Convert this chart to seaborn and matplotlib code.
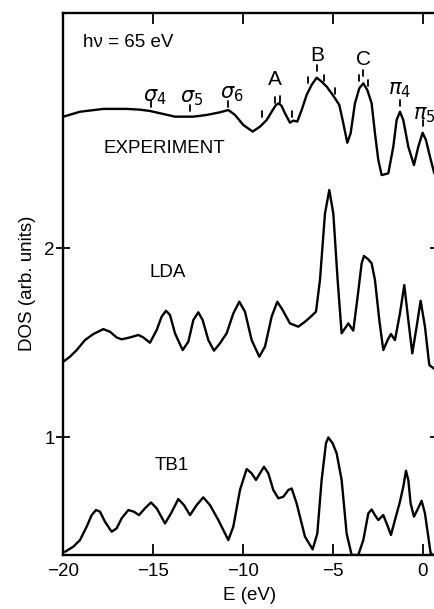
import numpy as np
import pandas as pd
import matplotlib
matplotlib.use("Agg")
import matplotlib.pyplot as plt
import seaborn as sns

# ---------------- data ----------------
exp_E = [-20.167, -19.981, -19.056, -17.759, -16.463, -15.722, -15.167, -14.611, -13.778, -12.759,
         -12.019, -11.278, -10.815, -10.444, -9.981, -9.463, -9.056, -8.685, -8.407, -8.167,
         -8.000, -7.852, -7.667, -7.389, -7.204, -6.981, -6.741, -6.463, -6.185, -5.907,
         -5.630, -5.352, -5.074, -4.889, -4.648, -4.426, -4.204, -4.019, -3.778, -3.537,
         -3.315, -3.093, -2.852, -2.667, -2.481, -2.296, -1.926, -1.648, -1.463, -1.278,
         -1.093, -0.815, -0.500, -0.259, -0.019, 0.167, 0.389, 0.630]
exp_DOS = [2.691, 2.695, 2.721, 2.736, 2.736, 2.732, 2.725, 2.713, 2.695, 2.695,
           2.704, 2.718, 2.730, 2.704, 2.651, 2.616, 2.642, 2.677, 2.721, 2.757,
           2.766, 2.751, 2.713, 2.663, 2.674, 2.669, 2.730, 2.810, 2.863, 2.901,
           2.880, 2.854, 2.818, 2.792, 2.757, 2.660, 2.557, 2.607, 2.766, 2.845,
           2.871, 2.836, 2.766, 2.607, 2.466, 2.386, 2.395, 2.536, 2.677, 2.721,
           2.677, 2.536, 2.439, 2.536, 2.610, 2.571, 2.483, 2.395]

lda_E = [-19.981, -19.611, -19.241, -18.778, -18.315, -17.759, -17.389, -17.019, -16.741, -16.278,
         -15.815, -15.537, -15.167, -14.796, -14.519, -14.278, -14.056, -13.778, -13.352, -13.037,
         -12.759, -12.481, -12.241, -11.926, -11.611, -11.278, -10.907, -10.537, -10.204, -9.889,
         -9.519, -9.093, -8.778, -8.407, -8.093, -7.796, -7.389, -6.926, -6.556, -6.278,
         -5.944, -5.722, -5.444, -5.204, -4.981, -4.741, -4.519, -4.333, -4.148, -3.870,
         -3.630, -3.407, -3.278, -3.037, -2.852, -2.667, -2.426, -2.204, -1.963, -1.778,
         -1.556, -1.278, -1.037, -0.815, -0.593, -0.352, -0.130, 0.111, 0.352, 0.667]
lda_DOS = [1.399, 1.425, 1.460, 1.513, 1.545, 1.571, 1.557, 1.527, 1.517, 1.527,
           1.540, 1.527, 1.499, 1.566, 1.637, 1.668, 1.646, 1.549, 1.460, 1.504,
           1.619, 1.660, 1.619, 1.513, 1.457, 1.496, 1.549, 1.654, 1.716, 1.663,
           1.513, 1.425, 1.478, 1.637, 1.716, 1.672, 1.601, 1.584, 1.610, 1.633,
           1.663, 1.831, 2.183, 2.307, 2.183, 1.831, 1.549, 1.575, 1.601, 1.563,
           1.743, 1.919, 1.958, 1.940, 1.919, 1.831, 1.619, 1.460, 1.513, 1.545,
           1.513, 1.654, 1.804, 1.619, 1.443, 1.584, 1.721, 1.584, 1.381, 1.358]

tb1_E = [-19.889, -19.426, -19.056, -18.685, -18.407, -18.167, -17.944, -17.667, -17.296, -17.019,
         -16.741, -16.370, -16.056, -15.778, -15.444, -15.111, -14.796, -14.333, -14.000, -13.593,
         -13.278, -12.944, -12.574, -12.204, -11.833, -11.370, -10.815, -10.537, -10.167, -9.796,
         -9.519, -9.278, -9.056, -8.833, -8.593, -8.315, -8.037, -7.759, -7.481, -7.296,
         -7.019, -6.556, -6.130, -5.870, -5.630, -5.389, -5.259, -5.019, -4.796, -4.519,
         -4.241, -3.963, -3.593, -3.315, -3.037, -2.852, -2.667, -2.481, -2.204, -2.019,
         -1.778, -1.556, -1.278, -1.093, -0.944, -0.815, -0.685, -0.500, -0.315, -0.074,
         0.111, 0.296, 0.426, 0.574]
tb1_DOS = [0.393, 0.420, 0.455, 0.526, 0.587, 0.614, 0.605, 0.552, 0.499, 0.517,
           0.570, 0.614, 0.605, 0.587, 0.623, 0.654, 0.623, 0.543, 0.596, 0.672,
           0.640, 0.587, 0.640, 0.681, 0.640, 0.561, 0.455, 0.526, 0.720, 0.831,
           0.808, 0.773, 0.808, 0.843, 0.808, 0.720, 0.676, 0.684, 0.720, 0.728,
           0.649, 0.473, 0.406, 0.490, 0.773, 0.967, 0.998, 0.967, 0.914, 0.773,
           0.490, 0.376, 0.376, 0.455, 0.596, 0.617, 0.587, 0.561, 0.587, 0.543,
           0.482, 0.561, 0.658, 0.737, 0.822, 0.773, 0.649, 0.579, 0.614, 0.663,
           0.596, 0.473, 0.385, 0.376]

series_names = ["EXPERIMENT", "LDA", "TB1"]

peak_labels = [r"$\sigma_4$", r"$\sigma_5$", r"$\sigma_6$", "A", "B", "C", r"$\pi_4$", r"$\pi_5$"]
peak_label_E = [-14.89, -12.83, -10.61, -8.22, -5.89, -3.33, -1.28, 0.05]
peak_label_y = [2.80, 2.795, 2.815, 2.889, 3.021, 2.995, 2.836, 2.704]

mark_E = [-15.13, -12.94, -10.83, -8.96, -8.22, -7.94, -7.26, -6.37, -5.91, -5.48, -4.89,
          -3.56, -3.32, -3.04, -1.28, 0.0]
mark_y = [2.762, 2.741, 2.762, 2.709, 2.783, 2.788, 2.709, 2.889, 2.952, 2.899, 2.831,
          2.899, 2.926, 2.873, 2.767, 2.661]

x_ticks = [-20, -15, -10, -5, 0]
y_ticks = [1, 2]

# ---------------- plot ----------------
sns.set_theme(style="ticks")
plt.rcParams["font.family"] = ["Liberation Sans", "DejaVu Sans"]
plt.rcParams["mathtext.fontset"] = "dejavusans"
for k in ["text.color", "axes.labelcolor", "xtick.color", "ytick.color", "axes.edgecolor"]:
    plt.rcParams[k] = "black"

fig = plt.figure(figsize=(4.35, 6.09), dpi=100)
ax = fig.add_axes([63 / 435, 1 - 555 / 609, 374 / 435, (555 - 12.5) / 609])

df = pd.concat([
    pd.DataFrame({"E": exp_E, "DOS": exp_DOS, "curve": "EXPERIMENT"}),
    pd.DataFrame({"E": lda_E, "DOS": lda_DOS, "curve": "LDA"}),
    pd.DataFrame({"E": tb1_E, "DOS": tb1_DOS, "curve": "TB1"}),
])
for name in series_names:
    sns.lineplot(data=df[df["curve"] == name], x="E", y="DOS", color="black",
                 linewidth=1.7, ax=ax, sort=False, estimator=None, legend=False)

ax.set_xlim(-20, 0.78)
ax.set_ylim(0.376, 3.246)
ax.set_xticks(x_ticks)
ax.set_yticks(y_ticks)
ax.set_xticklabels([f"{t}".replace("-", "\u2212") for t in x_ticks])
ax.set_yticklabels([str(t) for t in y_ticks])
ax.tick_params(axis="x", direction="in", length=8, width=1.3, top=True,
               labelsize=13.5, pad=6)
ax.tick_params(axis="y", direction="inout", length=10, width=1.3, right=True,
               labelsize=13.5, pad=1)
for s in ax.spines.values():
    s.set_linewidth(1.7)

ax.set_xlabel("E (eV)", fontsize=13.5, labelpad=5)
ax.set_ylabel("DOS (arb. units)", fontsize=13.5, labelpad=6)

# curve labels
ax.text(-14.39, 2.524, "EXPERIMENT", fontsize=13.5, ha="center", va="center")
ax.text(-14.17, 1.868, "LDA", fontsize=13.5, ha="center", va="center")
ax.text(-13.94, 0.852, "TB1", fontsize=13.5, ha="center", va="center")
ax.text(-18.9, 3.087, "h\u03bd = 65 eV", fontsize=13.5, ha="left", va="center")

# peak labels and markers
for lab, xe, ye in zip(peak_labels, peak_label_E, peak_label_y):
    ax.text(xe, ye, lab, fontsize=15, ha="center", va="center", clip_on=False)
for xe, ye in zip(mark_E, mark_y):
    ax.plot([xe, xe], [ye - 0.016, ye + 0.016], color="black", linewidth=1.3)

fig.savefig("out.png", dpi=100)
